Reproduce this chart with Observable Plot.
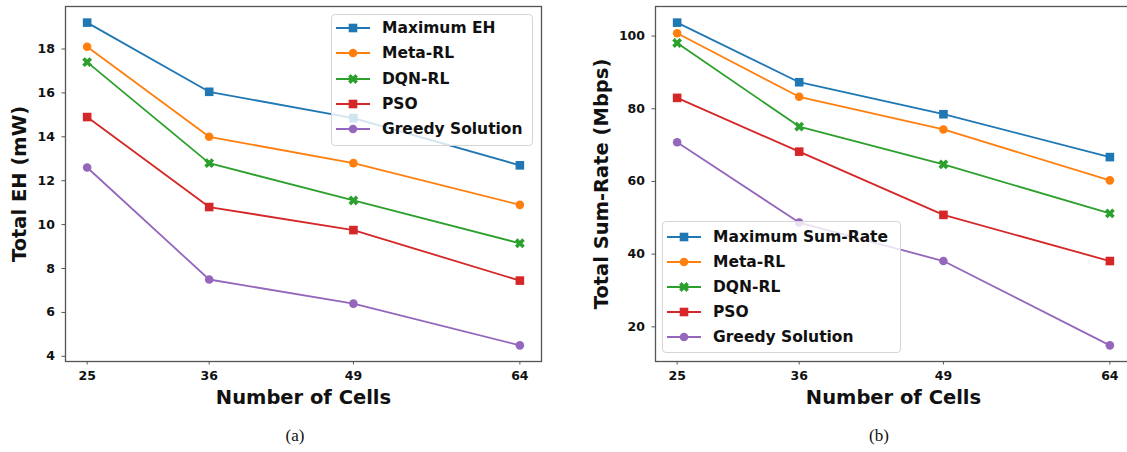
<!DOCTYPE html>
<html><head><meta charset="utf-8">
<script src="https://cdn.jsdelivr.net/npm/d3@7"></script>
<script src="https://cdn.jsdelivr.net/npm/@observablehq/plot@0.6"></script>
<style>
html,body{margin:0;padding:0;background:#fff;overflow:hidden;}
#fig{position:relative;width:1127px;height:452px;overflow:hidden;font-family:"DejaVu Sans",sans-serif;}
.panel{position:absolute;top:0;}
.legend{position:absolute;background:rgba(255,255,255,0.8);border:1px solid #d5d5d5;border-radius:4px;box-sizing:border-box;}
.row{position:absolute;left:4px;display:flex;align-items:center;height:20px;}
.row span{font-weight:bold;font-size:15.5px;color:#111;margin-left:12px;white-space:nowrap;}
.caption{position:absolute;font-family:"Liberation Serif","Times New Roman",serif;font-size:17px;transform:translateX(-50%);color:#111;}
</style></head><body><div id="fig"></div>
<script>
// ---- data ----
const cells = [25, 36, 49, 64];
const ehLabels = ["Maximum EH", "Meta-RL", "DQN-RL", "PSO", "Greedy Solution"];
const rateLabels = ["Maximum Sum-Rate", "Meta-RL", "DQN-RL", "PSO", "Greedy Solution"];
const ehMaximum = [19.2, 16.05, 14.85, 12.7];
const ehMetaRL = [18.1, 14.0, 12.8, 10.9];
const ehDQN = [17.4, 12.8, 11.1, 9.15];
const ehPSO = [14.9, 10.8, 9.75, 7.45];
const ehGreedy = [12.6, 7.5, 6.4, 4.5];
const rateMaximum = [103.7, 87.3, 78.5, 66.7];
const rateMetaRL = [100.8, 83.3, 74.3, 60.3];
const rateDQN = [98.1, 75.1, 64.7, 51.2];
const ratePSO = [83.0, 68.2, 50.8, 38.1];
const rateGreedy = [70.8, 48.7, 38.1, 14.9];
const ehTicks = [4, 6, 8, 10, 12, 14, 16, 18];
const rateTicks = [20, 40, 60, 80, 100];
const colors = ["#1f77b4", "#ff7f0e", "#2ca02c", "#d62728", "#9467bd"];

// ---- symbols ----
const squareSym = {draw(ctx, size){const r = Math.sqrt(size/Math.PI); ctx.rect(-r, -r, 2*r, 2*r);}};
const xSym = {draw(ctx, size){
  const r = Math.sqrt(size/Math.PI), a = r*0.42, e = r*1.2, s = Math.SQRT1_2;
  const pts = [[a,a],[a,e],[-a,e],[-a,a],[-e,a],[-e,-a],[-a,-a],[-a,-e],[a,-e],[a,-a],[e,-a],[e,a]]
    .map(([x,y]) => [(x-y)*s, (x+y)*s]);
  ctx.moveTo(pts[0][0], pts[0][1]);
  for (let k = 1; k < pts.length; k++) ctx.lineTo(pts[k][0], pts[k][1]);
  ctx.closePath();
}};
const symbols = [squareSym, d3.symbolCircle, xSym, squareSym, d3.symbolCircle];
const R = 4.3;

function panel({labels, values, yTicks, yLabel, width, marginLeft, marginRight, yLabelDx}) {
  const rows = labels.flatMap((s, i) => cells.map((c, j) => ({series: s, i, cells: c, value: values[i][j]})));
  const [y0, y1] = d3.extent(rows, d => d.value);
  const yp = (y1 - y0) * 0.05;
  const [x0, x1] = d3.extent(cells);
  const xp = (x1 - x0) * 0.05;
  const marks = [];
  labels.forEach((s, i) => {
    const d = rows.filter(r => r.i === i);
    marks.push(Plot.line(d, {x: "cells", y: "value", stroke: colors[i], strokeWidth: 1.8}));
    marks.push(Plot.dot(d, {x: "cells", y: "value", symbol: () => symbols[i], fill: colors[i], stroke: "none", r: R}));
  });
  marks.push(Plot.frame({stroke: "#555", strokeWidth: 1.3}));
  marks.push(Plot.axisX(cells, {tickSize: 3.5, tickPadding: 6, fontSize: 12.5, fontWeight: "bold", stroke: "#555", fill: "#111", label: null}));
  marks.push(Plot.axisY(yTicks, {tickSize: 3.5, tickPadding: 7, fontSize: 12.5, fontWeight: "bold", stroke: "#555", fill: "#111", label: null}));
  marks.push(Plot.text(["Number of Cells"], {frameAnchor: "bottom", dy: 36, textAnchor: "middle", lineAnchor: "middle", fontSize: 19.5, fontWeight: "bold", fill: "#111"}));
  marks.push(Plot.text([yLabel], {frameAnchor: "left", dx: yLabelDx, rotate: -90, textAnchor: "middle", lineAnchor: "middle", fontSize: 19.5, fontWeight: "bold", fill: "#111"}));
  return Plot.plot({
    width, height: 452, marginLeft, marginRight, marginTop: 6, marginBottom: 91,
    style: {fontFamily: "DejaVu Sans, sans-serif", background: "transparent"},
    x: {domain: [x0 - xp, x1 + xp], axis: null},
    y: {domain: [y0 - yp, y1 + yp], axis: null},
    marks
  });
}

function legend(labels, {left, top, width, height, firstRow, pitch}) {
  const box = document.createElement("div");
  box.className = "legend";
  Object.assign(box.style, {left: left + "px", top: top + "px", width: width + "px", height: height + "px"});
  labels.forEach((s, i) => {
    const row = document.createElement("div");
    row.className = "row";
    row.style.top = (firstRow + i * pitch - 10) + "px";
    const path = d3.symbol(symbols[i], R * R * Math.PI)();
    row.innerHTML = `<svg width="34" height="20"><line x1="0" x2="34" y1="10" y2="10" stroke="${colors[i]}" stroke-width="1.8"/><path d="${path}" transform="translate(17,10)" fill="${colors[i]}"/></svg><span>${s}</span>`;
    box.appendChild(row);
  });
  return box;
}

const fig = document.getElementById("fig");
const pa = panel({labels: ehLabels, values: [ehMaximum, ehMetaRL, ehDQN, ehPSO, ehGreedy], yTicks: ehTicks,
  yLabel: "Total EH (mW)", width: 560, marginLeft: 65, marginRight: 19, yLabelDx: -46});
pa.classList.add("panel"); pa.style.left = "0px";
fig.appendChild(pa);
const pb = panel({labels: rateLabels, values: [rateMaximum, rateMetaRL, rateDQN, ratePSO, rateGreedy], yTicks: rateTicks,
  yLabel: "Total Sum-Rate (Mbps)", width: 580, marginLeft: 95, marginRight: 9, yLabelDx: -54});
pb.classList.add("panel"); pb.style.left = "560px";
fig.appendChild(pb);

fig.appendChild(legend(ehLabels, {left: 331, top: 14, width: 202, height: 132, firstRow: 13, pitch: 25.25}));
fig.appendChild(legend(rateLabels, {left: 662, top: 221, width: 239, height: 132, firstRow: 14.5, pitch: 25.1}));

const ca = document.createElement("div"); ca.className = "caption"; ca.textContent = "(a)";
Object.assign(ca.style, {left: "295px", top: "426px"}); fig.appendChild(ca);
const cb = document.createElement("div"); cb.className = "caption"; cb.textContent = "(b)";
Object.assign(cb.style, {left: "879px", top: "426px"}); fig.appendChild(cb);
</script></body></html>
